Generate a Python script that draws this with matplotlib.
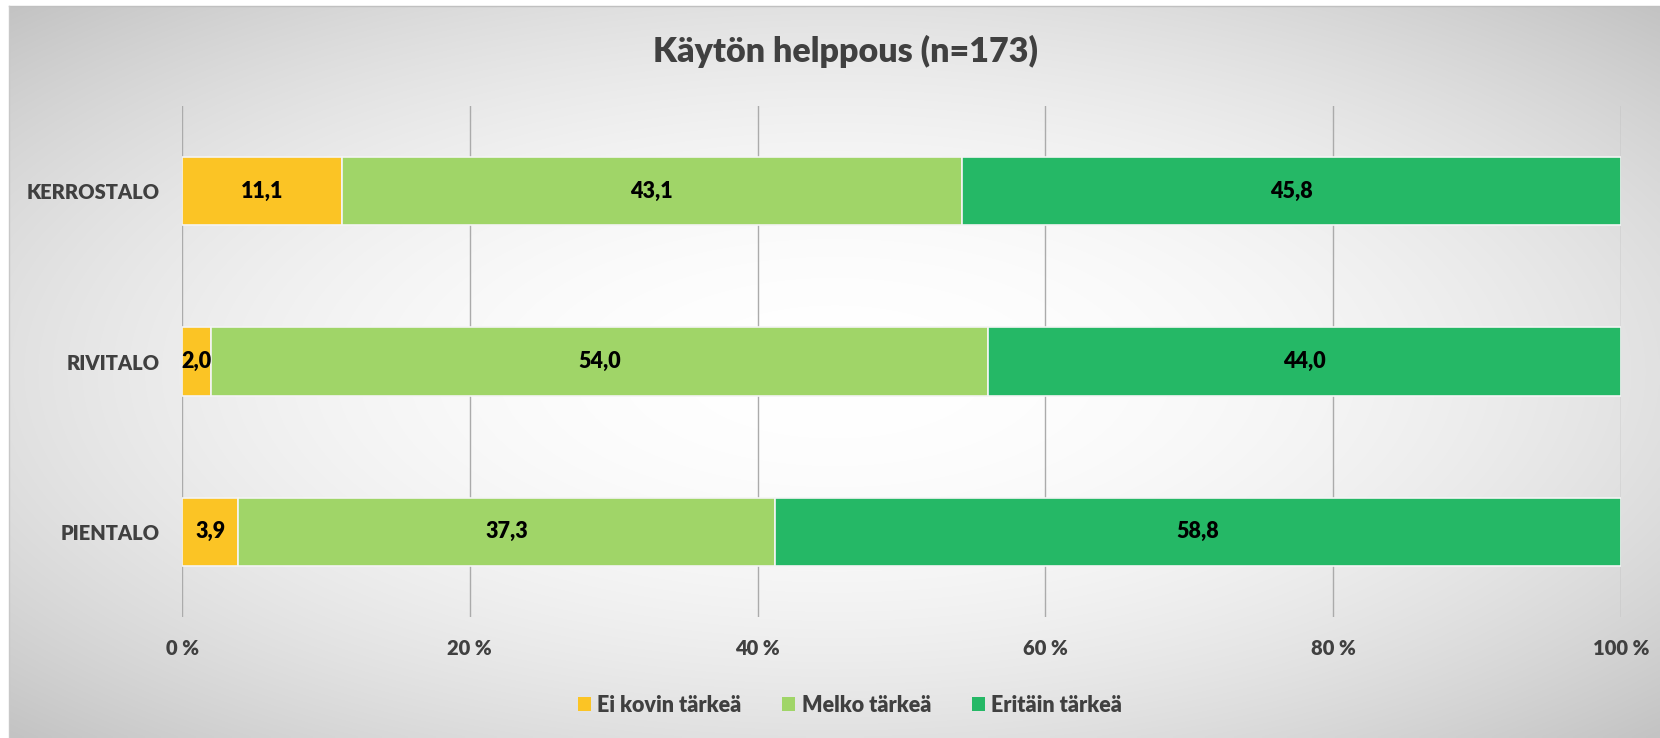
import numpy as np
import matplotlib
matplotlib.use("Agg")
import matplotlib.pyplot as plt
from matplotlib.patches import Patch

plt.rcParams['font.family'] = ['Lato', 'DejaVu Sans']

categories = ["PIENTALO", "RIVITALO", "KERROSTALO"]
series_names = ["Ei kovin tärkeä", "Melko tärkeä", "Eritäin tärkeä"]
ei_kovin = [3.9, 2.0, 11.1]
melko = [37.3, 54.0, 43.1]
eritain = [58.8, 44.0, 45.8]
tick_labels = ["0 %", "20 %", "40 %", "60 %", "80 %", "100 %"]
title = "Käytön helppous (n=173)"

colors = ["#FBC425", "#A0D568", "#25B866"]
W, H = 1660, 738
WEIGHT = 800
fig = plt.figure(figsize=(W / 100, H / 100), dpi=100)
fig.patch.set_facecolor("white")

# background radial gradient (chart area)
bx0, by0 = 9, 6
bg = fig.add_axes([bx0 / W, 0, (W - bx0) / W, (H - by0) / H], zorder=-5)
nx, ny = 400, 200
xx, yy = np.meshgrid(np.linspace(-1, 1, nx), np.linspace(-1, 1, ny))
r2 = (xx ** 2 + yy ** 2) / 2.0
val = 1 - 0.235 * r2
img = np.dstack([val, val, val])
bg.imshow(img, aspect="auto", extent=[0, 1, 0, 1], interpolation="bilinear")
bg.set_axis_off()
fig.add_artist(plt.Line2D([bx0 / W, 1], [1 - by0 / H, 1 - by0 / H], color="#C0C0C0", lw=1))
fig.add_artist(plt.Line2D([bx0 / W, bx0 / W], [0, 1 - by0 / H], color="#C8C8C8", lw=1))

left, right, top, bottom = 182, 1621, 106, 617
ax = fig.add_axes([left / W, 1 - bottom / H, (right - left) / W, (bottom - top) / H])
ax.set_facecolor("none")

y = np.arange(len(categories))
data = [np.array(ei_kovin), np.array(melko), np.array(eritain)]
lefts = np.zeros(len(categories))
for vals, c, name in zip(data, colors, series_names):
    ax.barh(y, vals / 100.0, left=lefts, height=0.4, color=c,
            edgecolor="#F4F4F4", linewidth=1.2, label=name, zorder=3)
    for yi, l, v in zip(y, lefts, vals):
        ax.text(l + v / 200.0, yi, f"{v:.1f}".replace(".", ","), ha="center", va="center",
                fontsize=15.5, fontweight=WEIGHT, color="black", zorder=4)
    lefts = lefts + vals / 100.0

ax.set_xlim(0, 1)
ax.set_ylim(-0.5, 2.5)
ax.set_xticks(np.linspace(0, 1, 6))
ax.set_xticklabels(tick_labels)
ax.set_yticks(y)
ax.set_yticklabels(categories)
ax.tick_params(axis="both", length=0, labelsize=14.5, labelcolor="#404040")
ax.tick_params(axis="x", pad=16)
ax.tick_params(axis="y", pad=16)
for lab in ax.get_xticklabels() + ax.get_yticklabels():
    lab.set_fontweight(WEIGHT)
ax.grid(axis="x", color="#ABABAB", linewidth=1, zorder=0)
ax.set_axisbelow(True)
for s in ax.spines.values():
    s.set_visible(False)

fig.text(845 / W, 1 - 51 / H, title, ha="center", va="center", fontsize=24.5,
         fontweight=WEIGHT, color="#404040")

handles = [Patch(facecolor=c, edgecolor="none") for c in colors]
fig.legend(handles, series_names, loc="center", bbox_to_anchor=(850 / W, 1 - 705 / H),
           ncol=3, frameon=False, handlelength=0.6, handleheight=0.6,
           handletextpad=0.3, columnspacing=1.9, labelcolor="#404040",
           prop={"weight": WEIGHT, "size": 15.5})

fig.savefig("out.png", dpi=100)
